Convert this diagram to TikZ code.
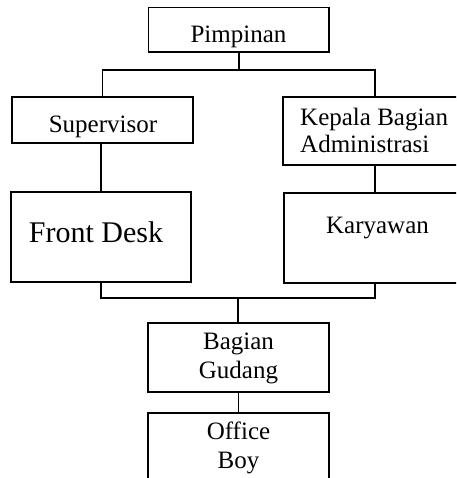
\documentclass[tikz,border=0pt]{standalone}
\usepackage{fontspec}
\setmainfont{Liberation Serif}
\begin{document}
\begin{tikzpicture}[x=1pt,y=1pt,
  box/.style={draw,line width=1.3pt,rectangle,inner sep=0pt},
  txt/.style={inner sep=0pt,anchor=base,font=\fontsize{25}{28}\selectfont},
  bigtxt/.style={inner sep=0pt,anchor=base,font=\fontsize{30}{34}\selectfont},
  conn/.style={line width=1.3pt}]
\useasboundingbox (0,0) rectangle (456,-478);
\clip (0,0) rectangle (456,-478);
% boxes
\node[box,minimum width=180.5pt,minimum height=44.5pt] (pim) at (238.75,-29.75) {};
\node[box,minimum width=181pt,minimum height=46pt] (sup) at (102.5,-120) {};
\node[box,minimum width=184pt,minimum height=68pt] (kep) at (375,-131) {};
\node[box,minimum width=180pt,minimum height=90pt] (fd) at (101,-237) {};
\node[box,minimum width=183pt,minimum height=90pt] (kar) at (375.5,-238) {};
\node[box,minimum width=181pt,minimum height=69pt] (bg) at (238.5,-357.5) {};
\node[box,minimum width=181pt,minimum height=80pt] (ob) at (238.5,-453) {};
% texts
\node[txt] (tpim) at (238.5,-43) {Pimpinan};
\node[txt] (tsup) at (103,-133) {Supervisor};
\node[txt,anchor=base west] (tkep1) at (300,-126) {Kepala Bagian};
\node[txt,anchor=base west] (tkep2) at (300,-153) {Administrasi};
\node[bigtxt] (tfd) at (96,-242) {Front Desk};
\node[txt] (tkar) at (377.5,-233) {Karyawan};
\node[txt] (tbg1) at (238.5,-349) {Bagian};
\node[txt] (tbg2) at (238.5,-378) {Gudang};
\node[txt] (tob1) at (238.5,-439) {Office};
\node[txt] (tob2) at (238.5,-468) {Boy};
% connectors
\coordinate (top) at (239,-70);
\coordinate (bot) at (238,-298);
\draw[conn] (pim.south -| top) -- (top);
\draw[conn] (sup.north) |- (top) -| (kep.north);
\draw[conn] (sup.south -| fd.north) -- (fd.north);
\draw[conn] (kep.south) -- (kar.north -| kep.south);
\draw[conn] (fd.south) |- (bot) -| (kar.south -| kep.south);
\draw[conn] (bot) -- (bg.north -| bot);
\draw[conn] (bg.south) -- (ob.north);
\end{tikzpicture}
\end{document}
